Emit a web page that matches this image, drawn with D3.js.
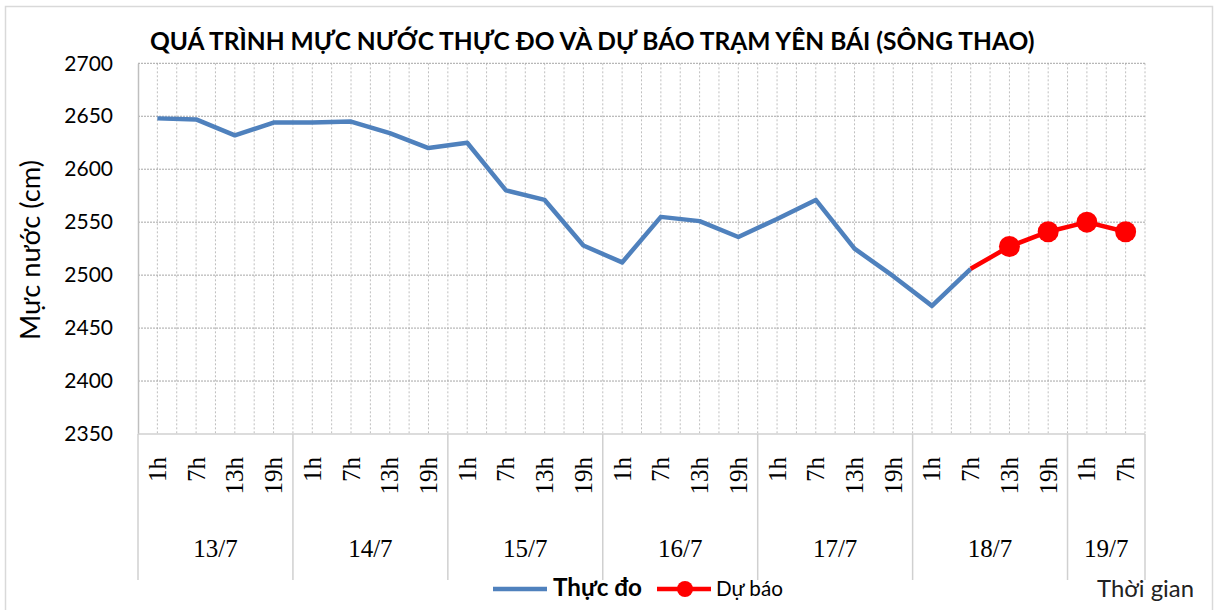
<!DOCTYPE html>
<html lang="vi">
<head>
<meta charset="UTF-8">
<title>Quá trình mực nước trạm Yên Bái</title>
<script src="https://d3js.org/d3.v7.min.js"></script>
<style>
  body { margin: 0; background: #fff; }
  svg { display: block; }
</style>
</head>
<body>
<div id="chart"></div>
<script>
// --- data ---
const dayLabels = ["13/7", "14/7", "15/7", "16/7", "17/7", "18/7", "19/7"];
const dayCounts = [4, 4, 4, 4, 4, 4, 2];
const hourLabels = ["1h", "7h", "13h", "19h", "1h", "7h", "13h", "19h",
                    "1h", "7h", "13h", "19h", "1h", "7h", "13h", "19h",
                    "1h", "7h", "13h", "19h", "1h", "7h", "13h", "19h",
                    "1h", "7h"];
const thucDo = [2648, 2647, 2632, 2644, 2644, 2645, 2634, 2620,
                2625, 2580, 2571, 2528, 2512, 2555, 2551, 2536,
                2553, 2571, 2525, 2499, 2471, 2506];
const duBaoStart = 21;               // forecast starts at the last measured point
const duBao = [2506, 2527, 2541, 2550, 2541];
const yTicks = [2350, 2400, 2450, 2500, 2550, 2600, 2650, 2700];

const W = 1219, H = 610;
const plotL = 138, plotR = 1145, plotT = 63.3, plotB = 434;
const catBottom = 580;

const svg = d3.select('#chart').append('svg')
    .attr('width', W).attr('height', H);

// outer frame
svg.append('rect')
    .attr('x', 5.5).attr('y', 6.5).attr('width', 1207).attr('height', 620)
    .attr('fill', '#fff').attr('stroke', '#d9d9d9').attr('stroke-width', 1.5);

const idx = d3.range(hourLabels.length);
const x = d3.scaleBand().domain(idx).range([plotL, plotR]).padding(0);
const bw = x.bandwidth();
const cx = i => x(i) + bw / 2;
const y = d3.scaleLinear().domain([2350, 2700]).range([plotB, plotT]);

// vertical gridlines: every boundary and every center
const vLines = [];
idx.forEach(i => { vLines.push(x(i)); vLines.push(cx(i)); });
vLines.push(plotR);
svg.append('g').selectAll('line').data(vLines.slice(1)).enter().append('line')
    .attr('x1', d => d).attr('x2', d => d)
    .attr('y1', plotT).attr('y2', plotB)
    .attr('stroke', '#bfbfbf').attr('stroke-width', 1)
    .attr('stroke-dasharray', '2,2');

// horizontal gridlines
svg.append('g').selectAll('line').data(yTicks.slice(1)).enter().append('line')
    .attr('x1', plotL).attr('x2', plotR)
    .attr('y1', d => y(d)).attr('y2', d => y(d))
    .attr('stroke', '#a6a6a6').attr('stroke-width', 1)
    .attr('stroke-dasharray', '2,1');

// y axis
const yAxis = d3.axisLeft(y).tickValues(yTicks).tickFormat(d3.format('d'))
    .tickSize(0).tickPadding(25);
const yg = svg.append('g').attr('transform', `translate(${plotL},0)`).call(yAxis);
yg.select('.domain').attr('stroke', '#bfbfbf').attr('stroke-width', 1.5);
yg.selectAll('text')
    .attr('font-family', 'Lato, sans-serif').attr('font-size', 21).attr('fill', '#000');

// x axis (multi-level)
svg.append('line')
    .attr('x1', plotL).attr('x2', plotR).attr('y1', plotB).attr('y2', plotB)
    .attr('stroke', '#d0d0d0').attr('stroke-width', 1.5);

let acc = 0;
const dayBounds = [0];
dayCounts.forEach(c => { acc += c; dayBounds.push(acc); });
const bx = b => b < idx.length ? x(b) : plotR;
svg.append('g').selectAll('line').data(dayBounds).enter().append('line')
    .attr('x1', bx).attr('x2', bx)
    .attr('y1', plotB).attr('y2', catBottom)
    .attr('stroke', '#d0d0d0').attr('stroke-width', 1.5);

svg.append('g').selectAll('text').data(hourLabels).enter().append('text')
    .attr('transform', (d, i) => `translate(${cx(i)},457) rotate(-90)`)
    .attr('text-anchor', 'end')
    .attr('dominant-baseline', 'central')
    .attr('font-family', '"Liberation Serif", "Times New Roman", serif')
    .attr('font-size', 25).attr('fill', '#000')
    .text(d => d);

svg.append('g').selectAll('text').data(dayLabels).enter().append('text')
    .attr('x', (d, i) => (bx(dayBounds[i]) + bx(dayBounds[i + 1])) / 2)
    .attr('y', 557)
    .attr('text-anchor', 'middle')
    .attr('font-family', '"Liberation Serif", "Times New Roman", serif')
    .attr('font-size', 25).attr('fill', '#000')
    .text(d => d);

// series
const line = d3.line().x(d => cx(d.i)).y(d => y(d.v));
const obs = thucDo.map((v, i) => ({ i, v }));
const fc = duBao.map((v, k) => ({ i: duBaoStart + k, v }));

svg.append('path').datum(obs)
    .attr('d', line).attr('fill', 'none')
    .attr('stroke', '#4f81bd').attr('stroke-width', 4.5)
    .attr('stroke-linejoin', 'round');

svg.append('path').datum(fc)
    .attr('d', line).attr('fill', 'none')
    .attr('stroke', '#ff0000').attr('stroke-width', 4.5)
    .attr('stroke-linejoin', 'round');

svg.append('g').selectAll('circle').data(fc.slice(1)).enter().append('circle')
    .attr('cx', d => cx(d.i)).attr('cy', d => y(d.v)).attr('r', 10.5)
    .attr('fill', '#ff0000');

// fit a text's width to the reference
function fit(sel, target) {
    const fs = +sel.attr('font-size');
    const w = sel.node().getComputedTextLength();
    sel.attr('font-size', fs * target / w);
}

// title
const title = svg.append('text')
    .attr('x', 150).attr('y', 50)
    .attr('font-family', 'Lato, sans-serif').attr('font-weight', 'bold')
    .attr('font-size', 26).attr('fill', '#000')
    .text('QUÁ TRÌNH MỰC NƯỚC THỰC ĐO VÀ DỰ BÁO TRẠM YÊN BÁI (SÔNG THAO)');
fit(title, 885);

// y axis title
const yTitle = svg.append('text')
    .attr('transform', 'translate(40,250) rotate(-90)')
    .attr('text-anchor', 'middle')
    .attr('font-family', 'Lato, sans-serif')
    .attr('font-size', 24).attr('fill', '#000')
    .text('Mực nước (cm)');
fit(yTitle, 180);

// legend
const lg = svg.append('g');
lg.append('line').attr('x1', 493).attr('x2', 547).attr('y1', 589).attr('y2', 589)
    .attr('stroke', '#4f81bd').attr('stroke-width', 4.5);
const t1 = lg.append('text').attr('x', 553).attr('y', 596)
    .attr('font-family', 'Lato, sans-serif').attr('font-weight', 'bold')
    .attr('font-size', 22).attr('fill', '#000').text('Thực đo');
fit(t1, 89);
lg.append('line').attr('x1', 657).attr('x2', 711).attr('y1', 589).attr('y2', 589)
    .attr('stroke', '#ff0000').attr('stroke-width', 4.5);
lg.append('circle').attr('cx', 685).attr('cy', 589).attr('r', 8).attr('fill', '#ff0000');
const t2 = lg.append('text').attr('x', 716).attr('y', 596)
    .attr('font-family', 'Lato, sans-serif')
    .attr('font-size', 20).attr('fill', '#000').text('Dự báo');
fit(t2, 67);

const xt = svg.append('text').attr('x', 1097).attr('y', 597)
    .attr('font-family', 'Lato, sans-serif')
    .attr('font-size', 22).attr('fill', '#222').text('Thời gian');
fit(xt, 97);
</script>
</body>
</html>
